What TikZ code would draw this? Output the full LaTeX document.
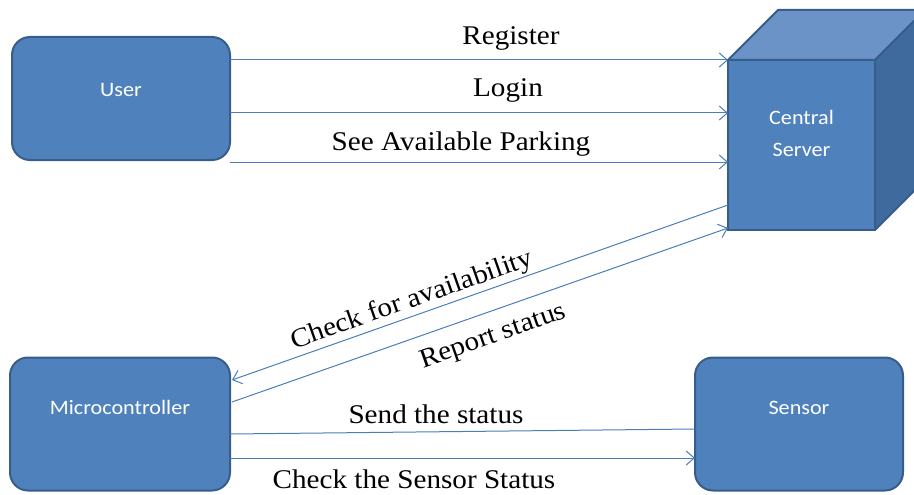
\documentclass[tikz,border=0pt]{standalone}
\usepackage{fontspec}
\setmainfont[FakeStretch=1.08]{Liberation Serif}
\newfontfamily\boxfont[FakeStretch=1.08]{Carlito}
\usetikzlibrary{arrows.meta}
\definecolor{boxfill}{HTML}{4F81BD}
\definecolor{boxline}{HTML}{385D8A}
\definecolor{cubetop}{HTML}{6B93C8}
\definecolor{cubeside}{HTML}{3E6A9E}
\definecolor{conn}{HTML}{4A7EBB}
\tikzset{
  block/.style={draw=boxline, line width=2pt, fill=boxfill, rounded corners=18pt,
    text=white, font=\boxfont\fontsize{20.5}{23}\selectfont, inner sep=0pt},
  conn/.style={draw=conn, line width=1pt, -{Straight Barb[length=8pt,width=14pt,line width=1pt]}},
  plainconn/.style={draw=conn, line width=1pt},
  lbl/.style={font=\fontsize{27}{30}\selectfont, inner sep=0pt},
}
\begin{document}
\begin{tikzpicture}[x=1pt,y=1pt]
\useasboundingbox (0,0) rectangle (914,-495);
% boxes
\node[block, minimum width=218pt, minimum height=123pt] (user) at (121,-98.5) {\raisebox{17pt}{User}};
\node[block, minimum width=220pt, minimum height=133pt] (micro) at (120,-424) {\raisebox{34pt}{Microcontroller}};
\node[block, minimum width=208pt, minimum height=133pt] (sensor) at (799,-424) {\raisebox{32pt}{Sensor}};
% cube
\coordinate (ftl) at (728,-60);
\coordinate (ftr) at (875,-60);
\coordinate (fbl) at (728,-230);
\coordinate (fbr) at (875,-230);
\coordinate (btl) at (778,-10);
\coordinate (btr) at (925,-10);
\coordinate (bbr) at (925,-180);
\draw[boxline, line width=2pt, fill=cubetop, line join=round] (ftl) -- (btl) -- (btr) -- (ftr) -- cycle;
\draw[boxline, line width=2pt, fill=cubeside, line join=round] (ftr) -- (btr) -- (bbr) -- (fbr) -- cycle;
\node[draw=boxline, line width=2pt, fill=boxfill, minimum width=147pt, minimum height=170pt,
  inner sep=0pt, text=white, align=center, font=\boxfont\fontsize{20.5}{32}\selectfont] (server) at (801.5,-145) {\raisebox{49pt}{\begin{tabular}{@{}c@{}}Central\\Server\end{tabular}}};
% top arrows
\coordinate (u1) at (230,-60);
\coordinate (u2) at (230,-113);
\coordinate (u3) at (230,-162);
\coordinate (s1) at (728,-60);
\coordinate (s2) at (728,-113);
\coordinate (s3) at (728,-162);
\draw[conn] (u1) -- (s1);
\draw[conn] (u2) -- (s2);
\draw[conn] (u3) -- (s3);
\node[lbl, anchor=base] (lreg) at (511,-45) {Register};
\node[lbl, anchor=base] (llog) at (508,-97) {Login};
\node[lbl, anchor=base] (lsee) at (461,-150) {See Available Parking};
% diagonals
\coordinate (sa) at (728,-205);
\coordinate (ma) at (232,-380);
\coordinate (mb) at (232,-402);
\coordinate (sb) at (728,-228);
\draw[conn] (sa) -- node[lbl, sloped, pos=0.627, above=2pt] (lchk) {Check for availability} (ma);
\draw[conn] (mb) -- node[lbl, sloped, pos=0.51, below=13pt] (lrep) {Report status} (sb);
% bottom
\coordinate (mc) at (230,-434);
\coordinate (sc) at (695,-429);
\draw[plainconn] (mc) -- (sc);
\node[lbl, anchor=base] (lsend) at (436,-423) {Send the status};
\coordinate (md) at (230,-458);
\coordinate (sd) at (695,-458);
\draw[conn] (md) -- (sd);
\node[lbl, anchor=base] (lcss) at (414,-488) {Check the Sensor Status};
\end{tikzpicture}
\end{document}
